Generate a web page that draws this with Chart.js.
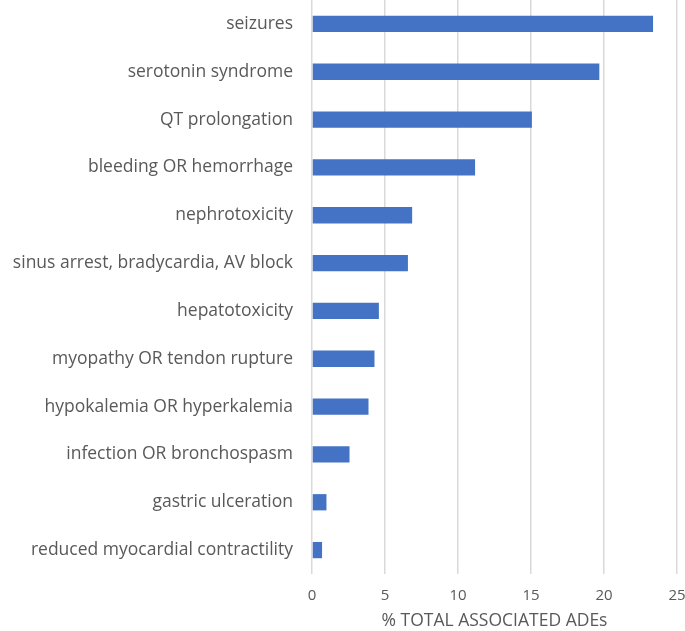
<!DOCTYPE html>
<html>
<head>
<meta charset="utf-8">
<script src="https://cdn.jsdelivr.net/npm/chart.js@4"></script>
<style>
  html, body { margin: 0; padding: 0; background: #fff; }
  #wrap { width: 685px; height: 631px; }
</style>
</head>
<body>
<div id="wrap"><canvas id="grafico"></canvas></div>
<script>
const categorias = [
    "seizures",
    "serotonin syndrome",
    "QT prolongation",
    "bleeding OR hemorrhage",
    "nephrotoxicity",
    "sinus arrest, bradycardia, AV block",
    "hepatotoxicity",
    "myopathy OR tendon rupture",
    "hypokalemia OR hyperkalemia",
    "infection OR bronchospasm",
    "gastric ulceration",
    "reduced myocardial contractility"
];

const porcentajes = [23.36, 19.68, 15.06, 11.17, 6.86, 6.57, 4.58, 4.28, 3.87, 2.57, 0.99, 0.69];

const ticksX = [0, 5, 10, 15, 20, 25];

const gris = "#595959";

new Chart(document.getElementById("grafico"), {
    type: "bar",
    data: {
        labels: categorias,
        datasets: [{
            data: porcentajes,
            backgroundColor: "#4472C4",
            borderWidth: 0,
            categoryPercentage: 1,
            barPercentage: 0.34
        }]
    },
    options: {
        indexAxis: "y",
        responsive: true,
        maintainAspectRatio: false,
        animation: false,
        layout: { padding: 0 },
        plugins: {
            legend: { display: false },
            tooltip: { enabled: false }
        },
        scales: {
            x: {
                min: 0,
                max: 25,
                afterBuildTicks: function(scale) {
                    scale.ticks = ticksX.map(v => ({ value: v }));
                },
                // el eje queda pegado como en el original
                afterFit: function(scale) {
                    scale.height = 57;
                    scale.paddingLeft = 0;
                    scale.paddingRight = 8;
                },
                grid: { color: "#d9d9d9", lineWidth: 1.5, drawTicks: false },
                border: { display: false },
                ticks: {
                    color: gris,
                    padding: 13,
                    font: { family: "Open Sans", size: 15 }
                },
                title: {
                    display: true,
                    text: "% TOTAL ASSOCIATED ADEs",
                    color: gris,
                    padding: { top: 0, bottom: -1 },
                    font: { family: "Open Sans", size: 17.5 }
                }
            },
            y: {
                afterFit: function(scale) {
                    scale.width = 312;
                    scale.paddingTop = 0;
                    scale.paddingBottom = 0;
                },
                grid: { display: false },
                border: { display: false },
                ticks: {
                    color: gris,
                    padding: 11,
                    font: { family: "Open Sans", size: 17.5 }
                }
            }
        }
    }
});
</script>
</body>
</html>
